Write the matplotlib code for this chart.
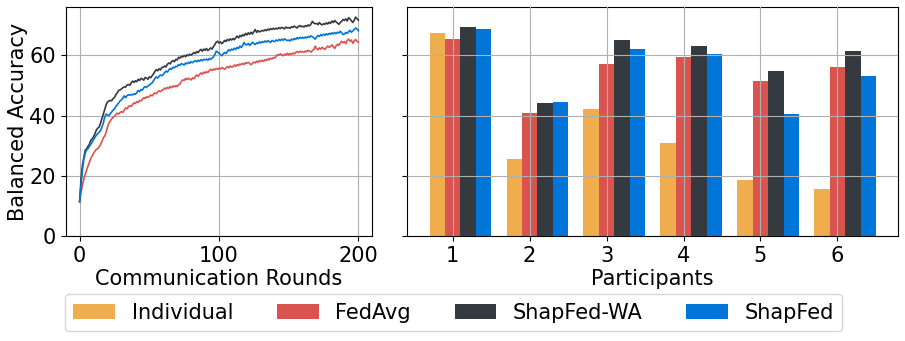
import numpy as np
import matplotlib
matplotlib.use("Agg")
import matplotlib.pyplot as plt

# colours
c_ind = "#F0AD4E"
c_avg = "#D9534F"
c_wa = "#343A40"
c_shap = "#0275D8"

# ---- left panel: accuracy per communication round ----
rounds = list(range(201))

acc_wa = [
    11.5, 19.0, 23.5, 26.0, 28.5, 29.0, 29.8, 30.5, 31.8, 32.3,
    33.0, 34.0, 35.2, 35.8, 36.2, 37.5, 39.0, 40.5, 42.0, 43.5,
    44.5, 44.8, 45.0, 44.9, 45.6, 46.0, 46.9, 47.5, 48.3, 48.5,
    48.8, 49.2, 49.5, 49.4, 50.1, 50.3, 50.0, 50.8, 51.4, 51.0,
    51.5, 51.2, 52.0, 51.6, 52.3, 52.1, 51.7, 52.6, 52.4, 52.0,
    52.8, 52.5, 53.2, 53.8, 54.6, 55.2, 54.8, 55.5, 55.1, 55.9,
    56.0, 56.4, 56.1, 57.0, 57.4, 57.1, 57.9, 58.2, 57.8, 58.6,
    58.4, 59.3, 59.0, 59.6, 59.4, 59.9, 59.5, 60.1, 59.8, 60.3,
    60.0, 60.4, 60.9, 60.5, 61.2, 60.8, 61.5, 61.9, 61.3, 62.0,
    61.6, 62.2, 61.5, 61.9, 62.4, 62.0, 62.8, 63.5, 64.3, 64.6,
    64.0, 64.4, 63.8, 64.2, 64.9, 64.5, 65.2, 64.8, 65.4, 65.0,
    65.5, 65.1, 65.8, 66.3, 65.7, 66.5, 66.1, 66.8, 66.4, 67.2,
    66.7, 67.4, 66.9, 67.6, 67.0, 67.8, 68.5, 67.5, 68.1, 67.7,
    67.9, 68.2, 68.0, 68.4, 68.1, 68.6, 68.3, 68.8, 68.5, 68.9,
    68.6, 68.9, 68.7, 69.1, 68.8, 69.2, 69.0, 68.7, 69.3, 69.0,
    69.1, 68.9, 69.4, 69.2, 69.6, 69.3, 69.0, 69.5, 69.8, 69.4,
    69.6, 69.3, 69.8, 69.5, 70.0, 69.7, 70.3, 71.2, 70.6, 70.4,
    70.5, 70.1, 70.8, 70.3, 70.0, 70.4, 70.2, 70.7, 70.3, 70.9,
    70.5, 71.3, 70.8, 71.5, 71.0, 70.6, 70.2, 70.8, 71.2, 71.8,
    71.5, 72.0, 71.3, 72.4, 72.0, 71.4, 70.8, 71.5, 72.6, 72.1,
    71.6]

acc_shap = [
    11.5, 17.0, 22.0, 25.5, 27.5, 28.6, 29.0, 29.8, 30.5, 31.2,
    32.0, 32.8, 33.5, 34.0, 34.5, 35.0, 36.2, 37.5, 39.5, 40.5,
    40.2, 40.0, 40.6, 41.2, 41.8, 42.2, 43.0, 43.6, 44.2, 44.8,
    45.2, 45.8, 46.5, 45.9, 46.6, 46.9, 46.7, 47.0, 46.8, 47.2,
    47.0, 47.6, 48.3, 47.9, 48.6, 48.4, 49.2, 49.6, 49.3, 49.8,
    50.1, 50.5, 50.8, 51.5, 52.3, 52.8, 52.4, 53.0, 53.4, 53.2,
    53.6, 54.2, 54.7, 54.4, 55.1, 55.6, 55.3, 56.0, 55.8, 56.3,
    56.2, 56.9, 56.6, 57.2, 57.0, 56.7, 57.4, 57.1, 57.6, 57.3,
    57.8, 57.5, 57.9, 58.2, 57.8, 58.3, 58.0, 58.5, 58.1, 58.6,
    58.4, 58.7, 58.3, 58.9, 58.6, 59.0, 59.4, 60.2, 61.3, 61.0,
    60.6, 60.2, 59.8, 60.4, 60.9, 60.5, 61.2, 61.8, 61.4, 62.0,
    61.7, 62.3, 61.9, 62.6, 62.2, 63.0, 62.5, 63.2, 64.2, 63.5,
    63.4, 63.9, 63.2, 63.7, 64.3, 63.8, 63.5, 64.1, 63.8, 64.4,
    64.0, 64.5, 64.2, 64.7, 64.3, 64.8, 64.5, 64.2, 64.9, 64.6,
    64.5, 65.0, 64.7, 65.2, 64.8, 65.3, 64.9, 65.4, 65.1, 64.8,
    65.0, 64.7, 65.3, 65.0, 65.5, 65.2, 65.8, 65.4, 65.9, 65.6,
    65.9, 65.6, 66.0, 65.7, 66.2, 65.9, 66.4, 66.1, 65.7, 65.3,
    66.0, 66.5, 66.2, 66.8, 66.4, 66.9, 66.6, 67.1, 66.7, 67.2,
    66.9, 67.4, 67.0, 67.5, 67.1, 67.6, 67.3, 67.9, 67.4, 66.8,
    67.0, 67.5, 67.2, 67.8, 68.2, 67.6, 68.0, 68.5, 69.0, 68.6,
    68.1]

acc_avg = [
    11.5, 14.5, 17.0, 19.0, 20.5, 22.0, 23.2, 24.5, 25.8, 26.6,
    27.5, 28.2, 28.8, 29.0, 29.6, 30.4, 31.5, 32.6, 33.2, 34.5,
    36.2, 37.5, 38.2, 38.9, 39.4, 39.8, 40.3, 40.8, 40.5, 41.0,
    41.3, 41.0, 41.8, 42.5, 42.2, 42.9, 43.3, 43.0, 43.6, 44.2,
    44.0, 44.6, 44.3, 45.0, 44.8, 45.4, 45.9, 45.6, 46.2, 46.0,
    46.3, 46.8, 46.5, 47.1, 47.5, 47.2, 47.8, 48.2, 47.9, 48.4,
    48.5, 49.1, 48.8, 49.3, 49.0, 49.6, 49.2, 49.8, 49.5, 49.9,
    49.6, 50.2, 50.5, 51.3, 51.8, 51.6, 52.3, 51.9, 52.4, 52.0,
    51.8, 52.5, 52.2, 52.9, 53.4, 53.0, 53.6, 54.1, 53.7, 54.4,
    54.0, 54.5, 54.2, 54.9, 55.3, 54.9, 55.4, 55.1, 55.6, 55.3,
    55.7, 55.4, 55.9, 55.6, 55.3, 55.8, 56.2, 55.8, 56.4, 56.0,
    56.2, 56.7, 56.3, 56.9, 56.5, 57.1, 56.8, 57.3, 56.9, 57.5,
    57.3, 57.6, 57.2, 56.8, 57.3, 57.7, 57.4, 58.0, 57.6, 58.2,
    57.9, 58.3, 57.9, 58.5, 58.2, 58.8, 58.4, 59.0, 58.7, 59.2,
    59.0, 59.6, 60.2, 60.0, 60.4, 60.1, 59.8, 60.3, 60.0, 60.6,
    60.1, 60.5, 60.2, 60.7, 60.4, 60.9, 61.2, 60.8, 61.3, 61.0,
    61.2, 60.9, 61.4, 61.1, 61.6, 61.3, 61.0, 61.5, 61.8, 63.0,
    62.1, 61.8, 62.4, 62.0, 62.6, 62.2, 61.9, 62.5, 63.0, 62.6,
    62.9, 63.4, 62.8, 62.2, 63.1, 63.6, 63.2, 64.0, 64.6, 64.1,
    64.5, 63.8, 64.9, 65.3, 64.6, 65.0, 63.9, 64.7, 65.2, 64.6,
    64.3]

# ---- right panel: final accuracy per participant ----
participants = [1, 2, 3, 4, 5, 6]
individual = [67.4, 25.6, 42.2, 30.9, 18.7, 15.7]
fedavg = [65.4, 40.8, 57.1, 59.4, 51.5, 56.1]
shapfed_wa = [69.4, 44.2, 65.1, 63.1, 54.8, 61.4]
shapfed = [68.7, 44.5, 62.1, 60.4, 40.5, 53.1]

labels = ["Individual", "FedAvg", "ShapFed-WA", "ShapFed"]

plt.rcParams['font.size'] = 15

fig = plt.figure(figsize=(9.05, 3.41), dpi=100)
ax1 = fig.add_axes([0.0726, 0.307, 0.3388, 0.673])
ax2 = fig.add_axes([0.450, 0.307, 0.5425, 0.673], sharey=ax1)

ax1.plot(rounds, acc_avg, color=c_avg, lw=1.2)
ax1.plot(rounds, acc_wa, color=c_wa, lw=1.2)
ax1.plot(rounds, acc_shap, color=c_shap, lw=1.2)
ax1.set_xlabel("Communication Rounds", labelpad=2)
ax1.set_ylabel("Balanced Accuracy", labelpad=1)
ax1.set_xticks([0, 100, 200])
ax1.set_yticks([0, 20, 40, 60])
ax1.set_ylim(0, 76)
ax1.grid(True)

x = np.array(participants)
w = 0.2
bars = []
for i, (vals, col) in enumerate(zip([individual, fedavg, shapfed_wa, shapfed],
                                    [c_ind, c_avg, c_wa, c_shap])):
    b = ax2.bar(x + (i - 1) * w, vals, w, color=col, label=labels[i])
    bars.append(b)
ax2.set_xticks(participants)
ax2.set_xlabel("Participants", labelpad=2)
ax2.tick_params(labelleft=False)
ax2.grid(True)
ax2.set_axisbelow(False)

fig.legend(handles=bars, labels=labels, loc='upper left',
           bbox_to_anchor=(0.0718, 0.137), ncol=4, borderaxespad=0,
           columnspacing=2.1)

fig.savefig("out.png", dpi=100)
